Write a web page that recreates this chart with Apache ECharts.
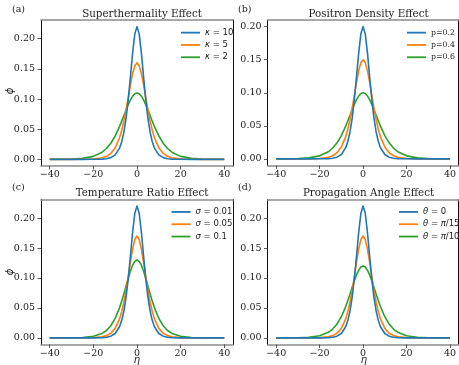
<!DOCTYPE html>
<html><head><meta charset="utf-8">
<script src="https://cdn.jsdelivr.net/npm/echarts@6/dist/echarts.min.js"></script>
<style>html,body{margin:0;padding:0;background:#fff}#c{width:459px;height:365px}</style>
</head><body><div id="c"></div>
<script>
// eta sample positions
var eta = [-40,-35,-30,-25,-20,-16,-14,-12,-10,-8,-7,-6,-5,-4,-3,-2,-1,0,1,2,3,4,5,6,7,8,10,12,14,16,20,25,30,35,40];
var xTicks = [-40,-20,0,20,40];
var yTicks = [0,0.05,0.10,0.15,0.20];

// (a) superthermality
var aNames = ['κ = 10','κ = 5','κ = 2'];
var aBlue = [0,0,0,0,0.0001,0.0004,0.0011,0.0029,0.0074,0.0187,0.0293,0.0452,0.0682,0.0992,0.1372,0.1768,0.2080,0.22,0.2080,0.1768,0.1372,0.0992,0.0682,0.0452,0.0293,0.0187,0.0074,0.0029,0.0011,0.0004,0.0001,0,0,0,0];
var aOrange = [0,0,0,0.0001,0.0006,0.0026,0.0050,0.0099,0.0191,0.0359,0.0482,0.0637,0.0822,0.1028,0.1238,0.1424,0.1553,0.16,0.1553,0.1424,0.1238,0.1028,0.0822,0.0637,0.0482,0.0359,0.0191,0.0099,0.0050,0.0026,0.0006,0.0001,0,0,0];
var aGreen = [0.0001,0.0002,0.0006,0.0017,0.0050,0.0119,0.0180,0.0267,0.0388,0.0544,0.0633,0.0726,0.0820,0.0908,0.0986,0.1047,0.1087,0.11,0.1087,0.1047,0.0986,0.0908,0.0820,0.0726,0.0633,0.0544,0.0388,0.0267,0.0180,0.0119,0.0050,0.0017,0.0006,0.0002,0.0001];

// (b) positron density
var bNames = ['p=0.2','p=0.4','p=0.6'];
var bBlue = [0,0,0,0,0.0001,0.0004,0.0010,0.0026,0.0067,0.0170,0.0266,0.0411,0.0620,0.0902,0.1247,0.1607,0.1891,0.20,0.1891,0.1607,0.1247,0.0902,0.0620,0.0411,0.0266,0.0170,0.0067,0.0026,0.0010,0.0004,0.0001,0,0,0,0];
var bOrange = [0,0,0,0.0001,0.0006,0.0024,0.0047,0.0093,0.0179,0.0336,0.0452,0.0597,0.0771,0.0964,0.1161,0.1335,0.1456,0.15,0.1456,0.1335,0.1161,0.0964,0.0771,0.0597,0.0452,0.0336,0.0179,0.0093,0.0047,0.0024,0.0006,0.0001,0,0,0];
var bGreen = [0.0001,0.0002,0.0005,0.0015,0.0046,0.0108,0.0163,0.0243,0.0353,0.0495,0.0576,0.0660,0.0745,0.0826,0.0897,0.0952,0.0988,0.10,0.0988,0.0952,0.0897,0.0826,0.0745,0.0660,0.0576,0.0495,0.0353,0.0243,0.0163,0.0108,0.0046,0.0015,0.0005,0.0002,0.0001];

// (c) temperature ratio
var cNames = ['σ = 0.01','σ = 0.05','σ = 0.1'];
var cBlue = [0,0,0,0,0.0001,0.0004,0.0011,0.0029,0.0074,0.0187,0.0293,0.0452,0.0682,0.0992,0.1372,0.1768,0.2080,0.22,0.2080,0.1768,0.1372,0.0992,0.0682,0.0452,0.0293,0.0187,0.0074,0.0029,0.0011,0.0004,0.0001,0,0,0,0];
var cOrange = [0,0,0,0.0001,0.0004,0.0018,0.0038,0.0078,0.0159,0.0318,0.0440,0.0600,0.0797,0.1026,0.1267,0.1486,0.1643,0.17,0.1643,0.1486,0.1267,0.1026,0.0797,0.0600,0.0440,0.0318,0.0159,0.0078,0.0038,0.0018,0.0004,0.0001,0,0,0];
var cGreen = [0,0.0001,0.0002,0.0007,0.0027,0.0075,0.0124,0.0203,0.0326,0.0503,0.0614,0.0737,0.0867,0.0997,0.1117,0.1214,0.1278,0.13,0.1278,0.1214,0.1117,0.0997,0.0867,0.0737,0.0614,0.0503,0.0326,0.0203,0.0124,0.0075,0.0027,0.0007,0.0002,0.0001,0];

// (d) propagation angle
var dNames = ['θ = 0','θ = π/15','θ = π/10'];
var dBlue = [0,0,0,0,0.0001,0.0004,0.0011,0.0029,0.0074,0.0187,0.0293,0.0452,0.0682,0.0992,0.1372,0.1768,0.2080,0.22,0.2080,0.1768,0.1372,0.0992,0.0682,0.0452,0.0293,0.0187,0.0074,0.0029,0.0011,0.0004,0.0001,0,0,0,0];
var dOrange = [0,0,0,0.0001,0.0004,0.0018,0.0038,0.0078,0.0159,0.0318,0.0440,0.0600,0.0797,0.1026,0.1267,0.1486,0.1643,0.17,0.1643,0.1486,0.1267,0.1026,0.0797,0.0600,0.0440,0.0318,0.0159,0.0078,0.0038,0.0018,0.0004,0.0001,0,0,0];
var dGreen = [0,0.0001,0.0003,0.0011,0.0036,0.0093,0.0148,0.0232,0.0354,0.0523,0.0624,0.0733,0.0845,0.0954,0.1053,0.1131,0.1182,0.12,0.1182,0.1131,0.1053,0.0954,0.0845,0.0733,0.0624,0.0523,0.0354,0.0232,0.0148,0.0093,0.0036,0.0011,0.0003,0.0001,0];

var titles = ['Superthermality Effect','Positron Density Effect','Temperature Ratio Effect','Propagation Angle Effect'];
var panelLabels = ['(a)','(b)','(c)','(d)'];
var colors = ['#1f77b4','#ff7f0e','#2ca02c'];

var SERIF = '"DejaVu Serif", serif';
var SANS = '"DejaVu Sans", sans-serif';

var grids = [
  {left:41, top:20, width:192, height:146},
  {left:267.5, top:20, width:192, height:145.5},
  {left:41, top:199.5, width:192, height:145},
  {left:267.5, top:199.5, width:192, height:145}
];
var yRanges = [[-0.011,0.231],[-0.01,0.21],[-0.011,0.231],[-0.011,0.231]];
var panels = [
  {names:aNames, data:[aBlue,aOrange,aGreen], legendFont:SANS, legendSize:8.5},
  {names:bNames, data:[bBlue,bOrange,bGreen], legendFont:SERIF, legendSize:7.8},
  {names:cNames, data:[cBlue,cOrange,cGreen], legendFont:SANS, legendSize:8.5},
  {names:dNames, data:[dBlue,dOrange,dGreen], legendFont:SANS, legendSize:8.5}
];
var legendPos = [[176,21.5],[402,21.5],[166.5,200.8],[394,200.8]];

var xAxes = [], yAxes = [], series = [], legends = [], titleOpts = [], graphics = [];
grids.forEach(function(g, i){
  xAxes.push({type:'value', gridIndex:i, min:-44, max:44, position:'bottom',
    axisLine:{show:true, onZero:false, lineStyle:{color:'#8c8c8c', width:1.6}},
    axisTick:{show:true, inside:false, length:3.5, customValues:xTicks, lineStyle:{color:'#333', width:0.8}},
    axisLabel:{show:true, customValues:xTicks, margin:4, fontFamily:SERIF, fontSize:9.5, color:'#222',
      formatter:function(v){return v<0 ? '\u2212'+Math.abs(v) : String(v);}},
    splitLine:{show:false}});
  xAxes.push({type:'value', gridIndex:i, min:-44, max:44, position:'top',
    axisLine:{show:true, onZero:false, lineStyle:{color:'#8c8c8c', width:1.6}},
    axisTick:{show:false}, axisLabel:{show:false}, splitLine:{show:false}});
  yAxes.push({type:'value', gridIndex:i, min:yRanges[i][0], max:yRanges[i][1], position:'left',
    axisLine:{show:true, onZero:false, lineStyle:{color:'#111', width:1}},
    axisTick:{show:true, inside:false, length:3.5, customValues:yTicks, lineStyle:{color:'#333', width:0.8}},
    axisLabel:{show:true, customValues:yTicks, margin:6, fontFamily:SERIF, fontSize:9.5, color:'#222',
      formatter:function(v){return v.toFixed(2);}},
    splitLine:{show:false}});
  yAxes.push({type:'value', gridIndex:i, min:yRanges[i][0], max:yRanges[i][1], position:'right',
    axisLine:{show:true, onZero:false, lineStyle:{color:'#111', width:1}},
    axisTick:{show:false}, axisLabel:{show:false}, splitLine:{show:false}});
  var p = panels[i];
  p.names.forEach(function(nm, k){
    series.push({type:'line', name:nm, xAxisIndex:2*i, yAxisIndex:2*i,
      data: eta.map(function(x, j){return [x, p.data[k][j]];}),
      smooth:false, showSymbol:false, symbol:'none',
      lineStyle:{color:colors[k], width:1.6, join:'round'}, itemStyle:{color:colors[k]}, z:5-k});
  });
  legends.push({orient:'vertical', left:legendPos[i][0], top:legendPos[i][1],
    data:p.names, icon:'rect', itemWidth:19, itemHeight:1.8, itemGap:0,
    selectedMode:false,
    formatter:function(n){return n.replace(/([κσθπ])/g, '{g|$1}');},
    textStyle:{fontFamily:p.legendFont, fontSize:p.legendSize, color:'#222', lineHeight:12.3,
      rich:{g:{fontFamily:SANS, fontStyle:'italic', fontSize:p.legendSize, color:'#222', lineHeight:12.3}}}});
  titleOpts.push({text:titles[i], left:g.left + 96, top:g.top - 16, textAlign:'center',
    textStyle:{fontFamily:SERIF, fontSize:10.3, fontWeight:'normal', color:'#222'}});
});

var labelPos = [[12,5],[238,5],[12,183],[238,183]];
panelLabels.forEach(function(t, i){
  graphics.push({type:'text', left:labelPos[i][0], top:labelPos[i][1],
    style:{text:t, font:'9.5px "DejaVu Serif", serif', fill:'#222'}});
});
// y-axis names (left column)
[[10,91],[10,272]].forEach(function(pt){
  graphics.push({type:'text', x:pt[0], y:pt[1], rotation:Math.PI/2,
    style:{text:'ϕ', font:'italic 10px "DejaVu Sans", sans-serif', fill:'#222', textAlign:'center', textVerticalAlign:'middle'}});
});
// x-axis names (bottom row)
[[137,360],[364,360]].forEach(function(pt){
  graphics.push({type:'text', x:pt[0], y:pt[1],
    style:{text:'η', font:'italic 10px "DejaVu Sans", sans-serif', fill:'#222', textAlign:'center', textVerticalAlign:'middle'}});
});

var chart = echarts.init(document.getElementById('c'), null, {renderer:'canvas'});
chart.setOption({
  animation:false,
  backgroundColor:'#fff',
  title:titleOpts,
  grid:grids,
  xAxis:xAxes,
  yAxis:yAxes,
  legend:legends,
  series:series,
  graphic:graphics
});
</script></body></html>
